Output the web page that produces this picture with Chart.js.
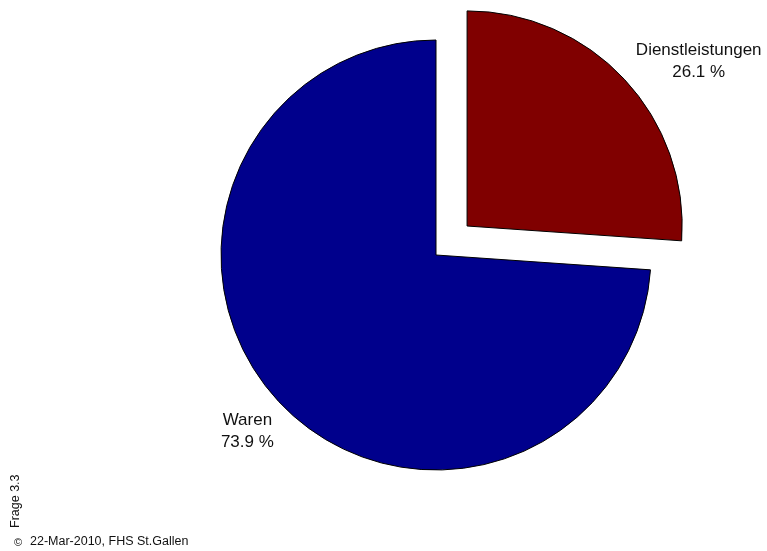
<!doctype html>
<html lang="de">
  <head>
    <meta charset="UTF-8" />
    <title>Frage 3.3</title>
    <script src="https://cdn.jsdelivr.net/npm/chart.js"></script>
    <style>
      html, body { margin: 0; padding: 0; background: #fff; }
      #wrap { width: 767px; height: 551px; position: relative; }
    </style>
  </head>
  <body>
    <div id="wrap"><canvas id="pieChart"></canvas></div>

    <script>
      // Anteile in Prozent
      const categories = ["Dienstleistungen", "Waren"];
      const shares = [26.1, 73.9];
      const sliceColors = ["rgb(128,0,0)", "rgb(0,0,140)"];

      const FONT = "'Liberation Sans', Arial, Helvetica, sans-serif";

      // Beschriftung "Kategorie / xx.x %" ausserhalb der Stuecke
      const sliceLabels = {
        id: "sliceLabels",
        afterDatasetsDraw(chart, args, opts) {
          const ctx = chart.ctx;
          const meta = chart.getDatasetMeta(0);
          ctx.save();
          ctx.fillStyle = "#111";
          ctx.font = "17px " + FONT;
          ctx.textAlign = "center";
          ctx.textBaseline = "middle";
          meta.data.forEach((arc, i) => {
            const mid = (arc.startAngle + arc.endAngle) / 2;
            const shift = (arc.options.offset || 0) / 4;
            const r = arc.outerRadius * 1.2;
            const nudge = opts.nudge[i] || [0, 0];
            const cx = arc.x + Math.cos(mid) * (shift + r) + nudge[0];
            const cy = arc.y + Math.sin(mid) * (shift + r) + nudge[1];
            const pct = shares[i].toFixed(1) + " %";
            ctx.fillText(categories[i], cx, cy - 11);
            ctx.fillText(pct, cx, cy + 11);
          });
          ctx.restore();
        },
      };

      // Fusszeile und Fragenummer
      const footer = {
        id: "footer",
        afterDraw(chart) {
          const ctx = chart.ctx;
          ctx.save();
          ctx.fillStyle = "#111";
          ctx.textBaseline = "middle";
          ctx.textAlign = "left";
          ctx.font = "11px " + FONT;
          ctx.fillText("\u00A9", 14, 543);
          ctx.font = "12.5px " + FONT;
          ctx.fillText("22-Mar-2010, FHS St.Gallen", 30, 542);

          ctx.translate(16, 528);
          ctx.rotate(-Math.PI / 2);
          ctx.fillText("Frage 3.3", 0, 0);
          ctx.restore();
        },
      };

      new Chart(document.getElementById("pieChart"), {
        type: "pie",
        data: {
          labels: categories,
          datasets: [
            {
              data: shares,
              backgroundColor: sliceColors,
              borderColor: "#000",
              borderWidth: 1,
              offset: [170, 0],
            },
          ],
        },
        options: {
          responsive: true,
          maintainAspectRatio: false,
          animation: false,
          events: [],
          radius: 215,
          layout: { padding: { left: 105, right: 0, top: 0, bottom: 41 } },
          plugins: {
            legend: { display: false },
            tooltip: { enabled: false },
            sliceLabels: { nudge: [[43, 11], [0, 0]] },
          },
        },
        plugins: [sliceLabels, footer],
      });
    </script>
  </body>
</html>
